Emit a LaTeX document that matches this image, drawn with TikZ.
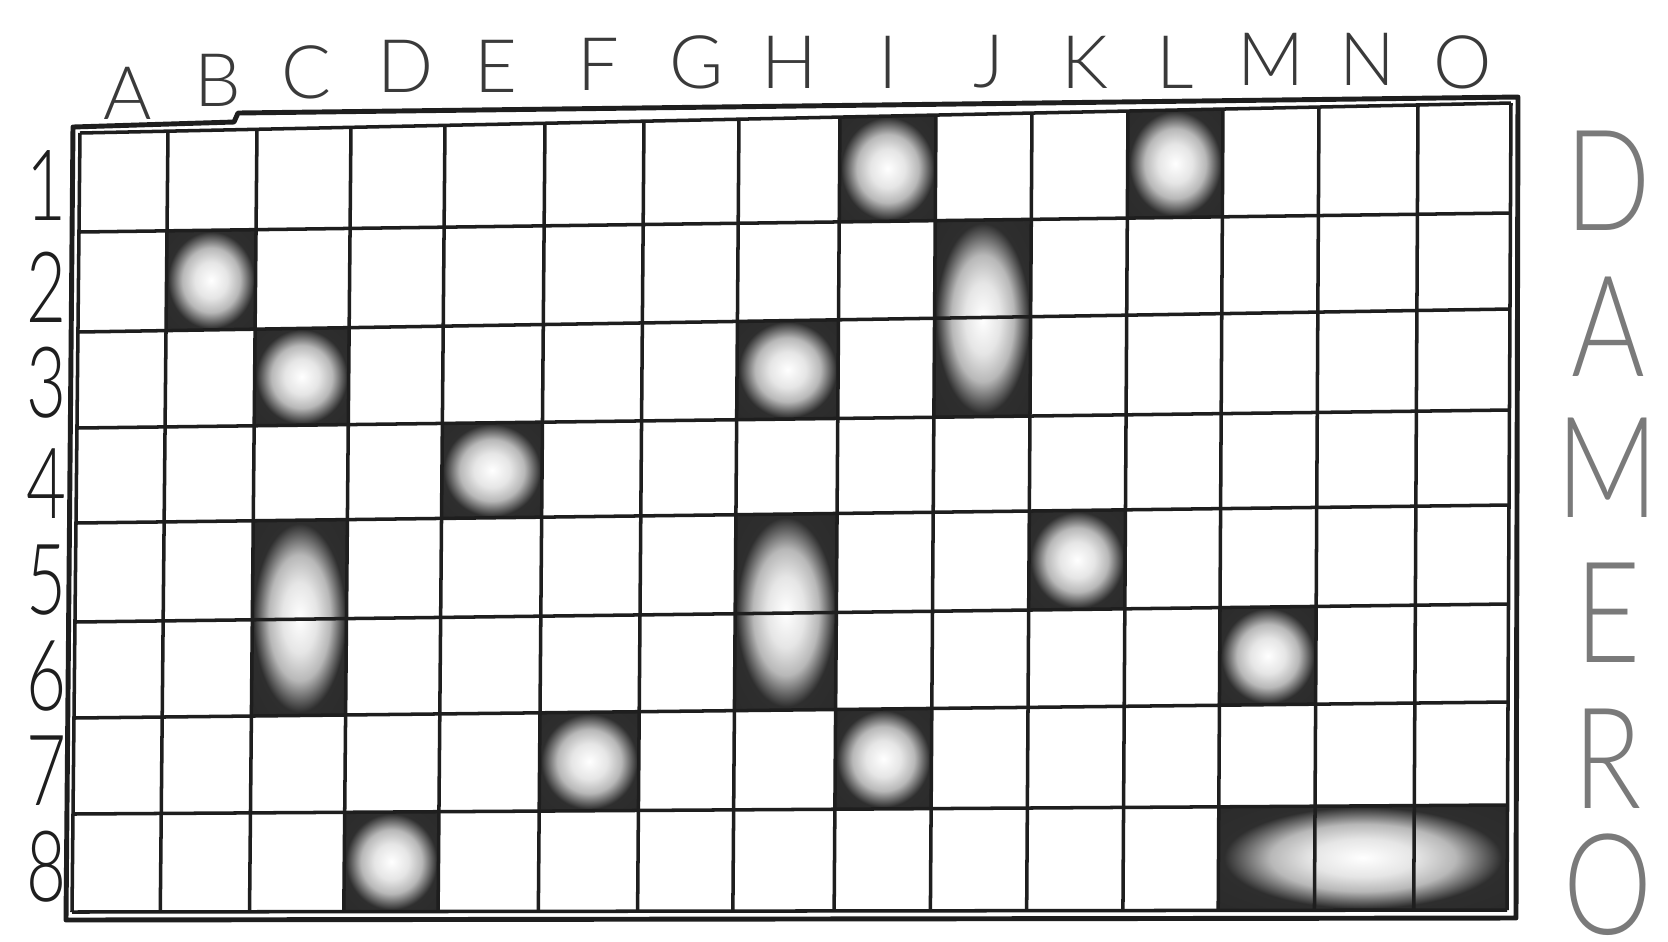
\documentclass[tikz,border=0pt]{standalone}
\usepackage{fontspec}
\setmainfont{Liberation Sans}
\newfontfamily\lightsans{Lato Light}
\usetikzlibrary{calc}
\definecolor{ink}{HTML}{1E1E1E}
\definecolor{pencil}{HTML}{3A3A3A}
\definecolor{stencil}{HTML}{7A7A7A}
\pgfdeclareradialshading{blotch}{\pgfpoint{0bp}{0bp}}{%
  color(0bp)=(white); color(9bp)=(black!10); color(16bp)=(black!28);
  color(21bp)=(black!62); color(24bp)=(black!82); color(50bp)=(black!85)}

\begin{document}
\begin{tikzpicture}[x=0.01cm, y=-0.01cm,
  grid line/.style={ink, line width=1pt},
  frame line/.style={ink, line width=1.4pt, line join=round},
  col label/.style={font=\lightsans\fontsize{21}{21}\selectfont, text=pencil, inner sep=0pt},
  row label/.style={font=\lightsans\fontsize{28}{28}\selectfont, text=ink, inner sep=0pt, xscale=0.7},
  title letter/.style={font=\lightsans\fontsize{40}{40}\selectfont, text=stencil, inner sep=0pt, xscale=0.8},
  block/.style={shading=blotch}]

\useasboundingbox[fill=white] (0,0) rectangle (1668,941);

% --- Grid points: column lines 0..15, row lines 0..8 ---
\foreach \c/\xc in {0/80,1/168,2/257,3/351,4/445,5/545,6/644,7/739,8/840,9/936,10/1032,11/1128,12/1223,13/1319,14/1418,15/1511}
  \foreach \r/\yl/\yr in {0/133/103,1/232/213,2/332/309,3/428/410,4/523/505,5/622/604,6/718/702,7/814/805,8/912/910}
    \coordinate (p-\c-\r) at ({\xc+\r*(-8+4*\c/15)/8}, {\yl+(\yr-\yl)*((\xc-80)/1431)});

% --- Shaded blocks ---
\foreach \cl/\rt/\cr/\rb in {8/0/9/1, 11/0/12/1, 1/1/2/2, 9/1/10/3, 2/2/3/3, 7/2/8/3,
    4/3/5/4, 2/4/3/6, 7/4/8/6, 10/4/11/5, 12/5/13/6, 5/6/6/7, 8/6/9/7, 3/7/4/8, 12/7/15/8}
  \shade[block] (p-\cl-\rt) -- (p-\cr-\rt) -- (p-\cr-\rb) -- (p-\cl-\rb) -- cycle;

% --- Grid lines ---
\foreach \r in {0,...,8}
  \draw[grid line] (p-0-\r) -- (p-15-\r);
\foreach \c in {0,...,15}
  \draw[grid line] (p-\c-0) -- (p-\c-8);

% Outer frame (with the notch over B)
\draw[frame line] (73,127) -- (234,122) -- (238,113) -- (1518,97) -- (1516,918) -- (66,920) -- cycle;

% --- Column letters ---
\foreach \l/\x/\y in {A/128/93, B/218/80, C/306/72, D/406/66, E/496/66, F/598/64, G/697/62,
    H/789/62, I/888/62, J/989/62, K/1085/62, L/1175/62, M/1271/59, N/1367/59, O/1463/62}
  \node[col label] (col-\l) at (\x,\y) {\l};

% --- Row numbers ---
\foreach \n/\y in {1/186, 2/287, 3/383, 4/484, 5/580, 6/676, 7/771, 8/867}
  \node[row label] (row-\n) at (46,\y) {\n};

% --- Title down the right side ---
\foreach \l/\y in {D/181, A/327, M/468, E/613, R/759, O/885}
  \node[title letter] (title-\l) at (1608,\y) {\l};

\end{tikzpicture}
\end{document}
